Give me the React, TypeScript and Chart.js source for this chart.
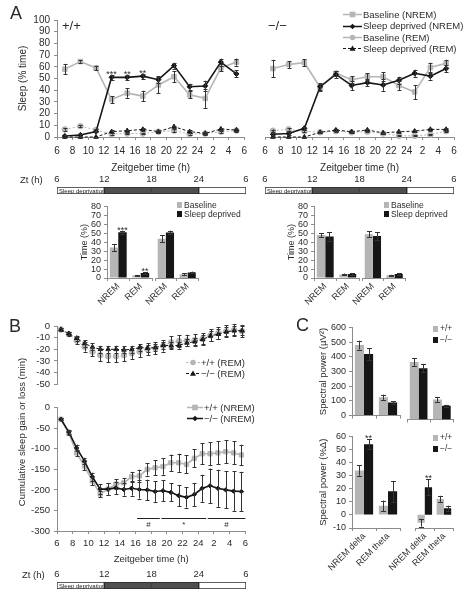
import React, { useEffect, useRef } from "react";
import { Chart, registerables } from "chart.js";
Chart.register(...registerables);

const FONT = "'Liberation Sans', Arial, Helvetica, sans-serif";
const GRAY = "#b5b5b5";
const BLACK = "#161616";
const AXIS = "#8c8c8c";
const TEXT = "#2b2b2b";
const ERR = "#333333";

// ---------- Panel A: time course (% sleep per 2 h) ----------
const ztHours = [7, 9, 11, 13, 15, 17, 19, 21, 23, 25, 27, 29];
// +/+
const wtBaseNREM = [58, 64.5, 59, 32, 37.5, 35, 44.5, 51.5, 36, 33, 59, 64];
const wtBaseNREMErr = [4.5, 1, 2, 3, 4, 4.5, 7, 4.5, 3, 8, 3, 3];
const wtSdNREM = [0.8, 1.7, 4.6, 51, 51, 52, 49, 61, 43, 43.6, 64, 54];
const wtSdNREMErr = [1, 1, 0.5, 2, 2, 2, 3, 2.5, 2.5, 4.5, 3, 3];
const wtSdNREMSig = ["", "", "", "***", "**", "**", "", "", "", "", "", ""];
const wtBaseREM = [6.5, 9.2, 6, 2.5, 3, 3, 4.5, 5.5, 2.5, 3, 4.5, 5.5];
const wtBaseREMErr = [1, 1, 1, 0.5, 0.5, 0.5, 1, 1, 0.5, 0.5, 1, 1];
const wtSdREM = [0, 0, 0, 4.6, 5.4, 6.5, 4.6, 8.8, 4.6, 3.1, 6.8, 6];
const wtSdREMErr = [0.3, 0.3, 0.3, 1, 1, 1, 1, 1, 1, 1, 1, 1];
// −/−
const koBaseNREM = [58.5, 62, 63.5, 42.5, 54.5, 49, 51.5, 51.5, 44, 38.5, 59.5, 63];
const koBaseNREMErr = [7.5, 3, 3, 3, 2, 3, 3, 4, 4, 6, 4, 3];
const koSdNREM = [2.3, 3, 7.4, 43, 53.5, 44, 46.5, 44.5, 48.5, 54.5, 52, 58.5];
const koSdNREMErr = [1, 1, 1, 3, 3, 4, 3, 5, 3, 3, 3, 3];
const koBaseREM = [5.4, 6.5, 5, 4, 5, 4, 4.5, 3, 1, 1, 2, 5];
const koBaseREMErr = [1, 1, 1, 0.5, 0.5, 0.5, 0.5, 0.5, 0.5, 0.5, 0.5, 1];
const koSdREM = [0, 0, 0, 4, 6, 4.5, 6, 3.5, 4.5, 5, 6.5, 6.5];
const koSdREMErr = [0.3, 0.3, 0.3, 1, 1, 1, 1, 1, 1, 1, 1, 1];

// ---------- Panel A: bar summaries (Time %) ----------
const stateCats = ["NREM", "REM"];
const wtBaseP1 = [34, 3];
const wtBaseP1Err = [4, 0.5];
const wtSdP1 = [51, 5.5];
const wtSdP1Err = [2, 1];
const wtSdP1Sig = ["***", "**"];
const wtBaseP2 = [43, 4];
const wtBaseP2Err = [4, 1];
const wtSdP2 = [50, 6];
const wtSdP2Err = [2, 1];
const koBaseP1 = [48, 4];
const koBaseP1Err = [2, 1];
const koSdP1 = [46.5, 4.5];
const koSdP1Err = [5, 1];
const koBaseP2 = [48, 3];
const koBaseP2Err = [3, 0.5];
const koSdP2 = [46, 4.5];
const koSdP2Err = [4, 1];

// ---------- Zt sleep-deprivation timeline ----------
const ztStart = [6, 12, 18, 24];
const ztEnd = [12, 18, 24, 30];
const ztFill = ["#ffffff", "#4f4f4f", "#4f4f4f", "#ffffff"];
const ztText = ["Sleep deprivation", "", "", ""];

// ---------- Panel B: cumulative sleep gain/loss (min) ----------
const cumHours = [6.5, 7.5, 8.5, 9.5, 10.5, 11.5, 12.5, 13.5, 14.5, 15.5, 16.5, 17.5, 18.5, 19.5, 20.5, 21.5, 22.5, 23.5, 24.5, 25.5, 26.5, 27.5, 28.5, 29.5];
const wtREM = [-3, -7, -12.5, -18, -22, -25, -26, -26, -25, -23.5, -22, -20, -19, -17, -14, -13, -12.5, -12, -11, -8, -6, -4.5, -3.5, -4.5];
const wtREMErr = [1, 2, 3, 4, 4, 5, 5, 5, 5, 5, 5, 5, 5, 5, 5, 5, 5, 5, 5, 5, 5, 5, 5, 5];
const koREM = [-3, -6.5, -10.5, -15, -18, -20, -20, -20, -20.5, -20, -18.5, -19, -18.5, -16.5, -17, -16.5, -14.5, -13.5, -11.5, -8.5, -7, -5, -4, -4];
const koREMErr = [1, 1.5, 2, 3, 3, 3, 3, 3, 3, 3, 3, 3, 3, 3, 3, 3, 3, 3, 4, 4, 4, 4, 4, 4];
const wtNREM = [-28, -62, -110, -142, -178, -210, -198, -186, -183, -168, -166, -150, -146, -143, -134, -134, -138, -123, -112, -112, -110, -107, -110, -115];
const wtNREMErr = [3, 5, 8, 10, 10, 8, 15, 12, 12, 12, 15, 15, 18, 20, 20, 22, 22, 22, 25, 28, 28, 28, 28, 25];
const koNREM = [-28, -59, -98, -130, -168, -198, -198, -195, -199, -196, -199, -200, -204, -202, -206, -214, -218, -211, -196, -190, -196, -200, -203, -204];
const koNREMErr = [3, 5, 8, 8, 10, 12, 15, 15, 15, 18, 22, 25, 25, 25, 22, 25, 25, 28, 33, 42, 45, 45, 48, 48];
const sigStart = [16.2, 19.3, 25.2];
const sigEnd = [19.1, 25.0, 30.0];
const sigLabel = ["#", "*", "#"];

// ---------- Panel C: spectral power ----------
const bandCats = ["NREM delta", "REM theta"];
const wtPowAbs1 = [480, 125];
const wtPowAbs1Err = [30, 18];
const koPowAbs1 = [420, 90];
const koPowAbs1Err = [40, 8];
const wtPowAbs2 = [375, 130];
const wtPowAbs2Err = [25, 15];
const koPowAbs2 = [335, 90];
const koPowAbs2Err = [28, 6];
const wtPowRel1 = [34, 7];
const wtPowRel1Err = [4, 4];
const koPowRel1 = [54, 18];
const koPowRel1Err = [4, 8];
const koPowRel1Sig = ["**", ""];
const wtPowRel2 = [-6, 12];
const wtPowRel2Err = [3, 2.5];
const koPowRel2 = [21, 5];
const koPowRel2Err = [6, 2];
const koPowRel2Sig = ["**", ""];

// ---------- plugins ----------
const errorBars = {
  id: "errorBars",
  afterDatasetsDraw(chart: any) {
    const { ctx } = chart;
    chart.data.datasets.forEach((ds: any, i: number) => {
      if (!ds.errors) return;
      const meta = chart.getDatasetMeta(i);
      const ys = chart.scales[meta.yAxisID];
      const cap = ds.errorCap ?? 2;
      ctx.save();
      ctx.strokeStyle = ds.errorColor || ERR;
      ctx.lineWidth = 1;
      meta.data.forEach((el: any, j: number) => {
        const raw = ds.data[j];
        const v = typeof raw === "number" ? raw : raw.y;
        const e = ds.errors[j];
        const x = Math.round(el.x) + 0.5;
        const y1 = ys.getPixelForValue(v + (e || 0));
        if (e) {
          const y2 = ys.getPixelForValue(v - e);
          ctx.beginPath();
          ctx.moveTo(x, y1);
          ctx.lineTo(x, y2);
          ctx.moveTo(x - cap, Math.round(y1) + 0.5);
          ctx.lineTo(x + cap, Math.round(y1) + 0.5);
          ctx.moveTo(x - cap, Math.round(y2) + 0.5);
          ctx.lineTo(x + cap, Math.round(y2) + 0.5);
          ctx.stroke();
        }
        const s = ds.stars && ds.stars[j];
        if (s) {
          ctx.fillStyle = TEXT;
          ctx.font = `9px ${FONT}`;
          ctx.textAlign = "center";
          ctx.textBaseline = "bottom";
          ctx.fillText(s, el.x, y1 + 4);
        }
      });
      ctx.restore();
    });
  },
};

const barText = {
  id: "barText",
  afterDatasetsDraw(chart: any) {
    const { ctx } = chart;
    chart.data.datasets.forEach((ds: any, i: number) => {
      if (!ds.innerText) return;
      const el = chart.getDatasetMeta(i).data[0];
      const p = el.getProps(["x", "base", "y"], true);
      ctx.save();
      ctx.fillStyle = "#222";
      ctx.font = `6px ${FONT}`;
      ctx.textAlign = "left";
      ctx.textBaseline = "middle";
      ctx.fillText(ds.innerText, Math.min(p.x, p.base) + 2, p.y + 0.5);
      ctx.restore();
    });
  },
};

const sigLines = {
  id: "sigLines",
  afterDatasetsDraw(chart: any, _a: any, opts: any) {
    if (!opts || !opts.starts) return;
    const { ctx } = chart;
    const xs = chart.scales.x;
    const ys = chart.scales.y;
    ctx.save();
    ctx.strokeStyle = "#222";
    ctx.lineWidth = 1;
    ctx.fillStyle = TEXT;
    ctx.font = `8px ${FONT}`;
    ctx.textAlign = "center";
    ctx.textBaseline = "middle";
    const yl = Math.round(ys.getPixelForValue(opts.lineY)) + 0.5;
    const yt = ys.getPixelForValue(opts.labelY);
    opts.starts.forEach((s: number, i: number) => {
      const x0 = xs.getPixelForValue(s);
      const x1 = xs.getPixelForValue(opts.ends[i]);
      ctx.beginPath();
      ctx.moveTo(x0, yl);
      ctx.lineTo(x1, yl);
      ctx.stroke();
      ctx.fillText(opts.labels[i], (x0 + x1) / 2, yt);
    });
    ctx.restore();
  },
};

// ---------- layout helpers ----------
type Area = { left: number; top: number; width: number; height: number; ax0: number; ay0: number; ax1: number; ay1: number };

function frame(a: Area, yVisible: boolean, xVisible: boolean, xTop = false) {
  const ls = a.ax0 - a.left;
  const rs = a.left + a.width - a.ax1;
  const ts = a.ay0 - a.top;
  const bs = a.top + a.height - a.ay1;
  return {
    padding: {
      left: yVisible ? 0 : ls,
      right: rs,
      top: xVisible && xTop ? 0 : ts,
      bottom: xVisible && !xTop ? 0 : bs,
    },
    yWidth: ls,
    xHeight: xTop ? ts : bs,
  };
}

const font = (size: number) => ({ family: FONT, size });

function baseOptions(L: any) {
  return {
    responsive: false,
    maintainAspectRatio: false,
    animation: false,
    events: [],
    layout: { padding: L.padding, autoPadding: false },
    plugins: { legend: { display: false }, tooltip: { enabled: false }, title: { display: false } },
  };
}

function yScale(L: any, min: number, max: number, step: number, o: any = {}) {
  if (o.hidden) return { type: "linear", display: false, min, max };
  return {
    type: "linear",
    min,
    max,
    afterFit: (s: any) => {
      s.width = L.yWidth;
    },
    ticks: { stepSize: step, autoSkip: false, font: font(o.size || 10), color: TEXT, padding: o.pad ?? 4 },
    grid: { display: true, drawOnChartArea: false, drawTicks: true, tickLength: 3, color: AXIS },
    border: { display: true, color: AXIS },
    title: o.title
      ? { display: true, text: o.title, font: font(o.titleSize || 10), color: TEXT, padding: { top: o.titlePad || 0, bottom: 0 } }
      : { display: false },
  };
}

function timeXScale(L: any, show: boolean, size: number, pad: number) {
  if (!show) return { type: "linear", display: false, min: 6, max: 30 };
  return {
    type: "linear",
    min: 6,
    max: 30,
    afterFit: (s: any) => {
      s.height = L.xHeight;
    },
    ticks: {
      stepSize: 2,
      autoSkip: false,
      maxRotation: 0,
      font: font(size),
      color: TEXT,
      padding: pad,
      callback: (v: any) => (v > 24 ? v - 24 : v),
    },
    grid: { display: true, drawOnChartArea: false, drawTicks: true, tickLength: 3, color: AXIS },
    border: { display: true, color: AXIS },
    title: { display: true, text: "Zeitgeber time (h)", font: font(size), color: TEXT, padding: { top: 0, bottom: 1 } },
  };
}

type Sty = { color: string; point: string; r: number; w: number; dash?: number[] };
const stNremSD: Sty = { color: BLACK, point: "rectRot", r: 2.6, w: 1.6 };
const stNremBase: Sty = { color: GRAY, point: "rect", r: 3.2, w: 1.6 };
const stRemSD: Sty = { color: BLACK, point: "triangle", r: 2.6, w: 1, dash: [3, 2] };
const stRemBase: Sty = { color: GRAY, point: "circle", r: 2.8, w: 1, dash: [2, 2] };

function lineDs(xs: number[], ys: number[], errs: number[], st: Sty, stars?: string[]) {
  return {
    data: xs.map((x, i) => ({ x, y: ys[i] })),
    errors: errs,
    stars,
    borderColor: st.color,
    backgroundColor: st.color,
    pointBackgroundColor: st.color,
    pointBorderColor: st.color,
    pointStyle: st.point,
    pointRadius: st.r,
    pointBorderWidth: 1,
    borderWidth: st.w,
    borderDash: st.dash || [],
    tension: 0,
    clip: false,
    errorCap: 2,
  };
}

function sleepLineConfig(a: Area, showY: boolean, sets: any[]) {
  const L = frame(a, showY, true);
  return {
    type: "line",
    data: { datasets: sets },
    options: {
      ...baseOptions(L),
      scales: {
        x: timeXScale(L, true, 10, 5),
        y: yScale(L, 0, 100, 10, showY ? { title: "Sleep (% time)", titleSize: 10, titlePad: 17, size: 10, pad: 4 } : { hidden: true }),
      },
    },
    plugins: [errorBars],
  };
}

function ztConfig(a: Area) {
  const L = frame(a, false, true, true);
  return {
    type: "bar",
    data: {
      labels: ["Zt"],
      datasets: ztStart.map((s, i) => ({
        data: [[s, ztEnd[i]]],
        backgroundColor: ztFill[i],
        borderColor: "#2a2a2a",
        borderWidth: 1,
        borderSkipped: false,
        barPercentage: 1,
        categoryPercentage: 1,
        grouped: false,
        innerText: ztText[i],
      })),
    },
    options: {
      ...baseOptions(L),
      indexAxis: "y",
      scales: {
        x: {
          type: "linear",
          position: "top",
          min: 6,
          max: 30,
          afterFit: (s: any) => {
            s.height = L.xHeight;
          },
          ticks: { stepSize: 6, autoSkip: false, font: font(9.5), color: TEXT, padding: 2, maxRotation: 0, callback: (v: any) => (v > 24 ? v - 24 : v) },
          grid: { display: false, drawTicks: false },
          border: { display: false },
        },
        y: { display: false },
      },
    },
    plugins: [barText],
  };
}

function barConfig(
  a: Area,
  cats: string[],
  sets: { data: number[]; err: number[]; color: string; stars?: string[] }[],
  y: { min: number; max: number; step: number; title?: string; show: boolean; titlePad?: number; titleSize?: number },
  showLabels: boolean,
  catPct: number,
) {
  const L = frame(a, y.show, true);
  return {
    type: "bar",
    data: {
      labels: cats,
      datasets: sets.map((s) => ({
        data: s.data,
        errors: s.err,
        stars: s.stars,
        backgroundColor: s.color,
        borderWidth: 0,
        barPercentage: 1,
        categoryPercentage: catPct,
        errorCap: 2.5,
      })),
    },
    options: {
      ...baseOptions(L),
      scales: {
        x: {
          type: "category",
          afterFit: (s: any) => {
            s.height = L.xHeight;
          },
          ticks: { display: showLabels, font: font(9), color: TEXT, minRotation: 45, maxRotation: 45, padding: 0, autoSkip: false },
          grid: { display: true, drawOnChartArea: false, drawTicks: true, tickLength: 3, color: AXIS, offset: true },
          border: { display: true, color: AXIS },
        },
        y: y.show
          ? yScale(L, y.min, y.max, y.step, { title: y.title, titleSize: y.titleSize || 9, titlePad: y.titlePad || 0, size: 9, pad: 3 })
          : { type: "linear", display: false, min: y.min, max: y.max },
      },
    },
    plugins: [errorBars],
  };
}

function cumConfig(a: Area, showX: boolean, min: number, max: number, step: number, sets: any[], sig?: any) {
  const L = frame(a, true, showX);
  return {
    type: "line",
    data: { datasets: sets },
    options: {
      ...baseOptions(L),
      plugins: { ...baseOptions(L).plugins, sigLines: sig || {} },
      scales: {
        x: timeXScale(L, showX, 9.5, 4),
        y: yScale(L, min, max, step, { size: 9.5, pad: 4 }),
      },
    },
    plugins: [errorBars, sigLines],
  };
}

// ---------- React pieces ----------
function ChartCanvas({ area, make }: { area: Area; make: () => any }) {
  const ref = useRef<HTMLCanvasElement>(null);
  useEffect(() => {
    const chart = new Chart(ref.current as HTMLCanvasElement, make());
    return () => chart.destroy();
  }, []);
  return (
    <canvas
      ref={ref}
      width={area.width}
      height={area.height}
      style={{ position: "absolute", left: area.left, top: area.top, width: area.width, height: area.height }}
    />
  );
}

type LegendItem = { label: string; color: string; marker: string; dash?: string; w?: number };

function Marker({ m, color, cx, cy }: { m: string; color: string; cx: number; cy: number }) {
  if (m === "rect") return <rect x={cx - 2.8} y={cy - 2.8} width={5.6} height={5.6} fill={color} />;
  if (m === "rectRot") return <polygon points={`${cx},${cy - 2.8} ${cx + 2.8},${cy} ${cx},${cy + 2.8} ${cx - 2.8},${cy}`} fill={color} />;
  if (m === "circle") return <circle cx={cx} cy={cy} r={2.7} fill={color} />;
  if (m === "triangle") return <polygon points={`${cx},${cy - 3} ${cx + 3},${cy + 2.2} ${cx - 3},${cy + 2.2}`} fill={color} />;
  return null;
}

function LineLegend({ left, top, rowH, size, lineW, items }: { left: number; top: number; rowH: number; size: number; lineW: number; items: LegendItem[] }) {
  return (
    <div style={{ position: "absolute", left, top, font: `${size}px ${FONT}`, color: TEXT, lineHeight: `${rowH}px` }}>
      {items.map((it) => (
        <div key={it.label} style={{ display: "flex", alignItems: "center", height: rowH, whiteSpace: "nowrap" }}>
          <svg width={lineW} height={9} style={{ marginRight: 1, flex: "none" }}>
            <line x1={0} y1={4.5} x2={lineW} y2={4.5} stroke={it.color} strokeWidth={it.w || 1.5} strokeDasharray={it.dash} />
            <Marker m={it.marker} color={it.color} cx={lineW / 2} cy={4.5} />
          </svg>
          <span>{it.label}</span>
        </div>
      ))}
    </div>
  );
}

function BoxLegend({ left, top, rowH, size, items }: { left: number; top: number; rowH: number; size: number; items: { label: string; color: string }[] }) {
  return (
    <div style={{ position: "absolute", left, top, font: `${size}px ${FONT}`, color: TEXT, lineHeight: `${rowH}px` }}>
      {items.map((it) => (
        <div key={it.label} style={{ display: "flex", alignItems: "center", height: rowH, whiteSpace: "nowrap" }}>
          <span style={{ display: "inline-block", width: 5, height: 6, background: it.color, marginRight: 2 }} />
          <span>{it.label}</span>
        </div>
      ))}
    </div>
  );
}

function Txt({ left, top, size, children, style }: any) {
  return (
    <div style={{ position: "absolute", left, top, font: `${size}px ${FONT}`, color: TEXT, lineHeight: 1, whiteSpace: "nowrap", ...style }}>
      {children}
    </div>
  );
}

// areas
const aA1: Area = { left: 0, top: 0, width: 252, height: 175, ax0: 57, ay0: 20, ax1: 245, ay1: 137 };
const aA2: Area = { left: 252, top: 0, width: 210, height: 175, ax0: 265, ay0: 20, ax1: 454, ay1: 137 };
const aZt1: Area = { left: 0, top: 172, width: 252, height: 27, ax0: 57, ay0: 187, ax1: 246, ay1: 194 };
const aZt2: Area = { left: 252, top: 172, width: 210, height: 27, ax0: 265, ay0: 187, ax1: 454, ay1: 194 };
const aBar1a: Area = { left: 75, top: 198, width: 80, height: 115, ax0: 107, ay0: 205, ax1: 152, ay1: 278 };
const aBar1b: Area = { left: 135, top: 198, width: 66, height: 115, ax0: 155, ay0: 205, ax1: 198.5, ay1: 278 };
const aBar2a: Area = { left: 282, top: 198, width: 80, height: 115, ax0: 314, ay0: 205, ax1: 359, ay1: 278 };
const aBar2b: Area = { left: 342, top: 198, width: 66, height: 115, ax0: 362, ay0: 205, ax1: 405.5, ay1: 278 };
const aRem: Area = { left: 0, top: 316, width: 252, height: 78, ax0: 57, ay0: 326, ax1: 246, ay1: 388 };
const aNrem: Area = { left: 0, top: 398, width: 252, height: 168, ax0: 57, ay0: 406, ax1: 246, ay1: 531 };
const aZtB: Area = { left: 0, top: 566, width: 252, height: 27, ax0: 57, ay0: 582, ax1: 246, ay1: 589 };
const aC1a: Area = { left: 314, top: 318, width: 90, height: 106, ax0: 352, ay0: 327.5, ax1: 400, ay1: 419.5 };
const aC1b: Area = { left: 385, top: 318, width: 72, height: 106, ax0: 407, ay0: 327.5, ax1: 453.5, ay1: 419.5 };
const aC2a: Area = { left: 314, top: 428, width: 90, height: 162, ax0: 352, ay0: 436, ax1: 400, ay1: 528 };
const aC2b: Area = { left: 385, top: 428, width: 72, height: 162, ax0: 407, ay0: 436, ax1: 453.5, ay1: 528 };

const legendA: LegendItem[] = [
  { label: "Baseline (NREM)", color: GRAY, marker: "rect" },
  { label: "Sleep deprived (NREM)", color: BLACK, marker: "rectRot" },
  { label: "Baseline (REM)", color: GRAY, marker: "circle" },
  { label: "Sleep deprived (REM)", color: BLACK, marker: "triangle", dash: "3 2", w: 1 },
];
const legendBRem: LegendItem[] = [
  { label: "+/+ (REM)", color: GRAY, marker: "circle", dash: "2 2", w: 1 },
  { label: "\u2212/\u2212 (REM)", color: BLACK, marker: "triangle", dash: "3 2", w: 1 },
];
const legendBNrem: LegendItem[] = [
  { label: "+/+ (NREM)", color: GRAY, marker: "rect" },
  { label: "\u2212/\u2212 (NREM)", color: BLACK, marker: "rectRot" },
];
const legendBars = [
  { label: "Baseline", color: GRAY },
  { label: "Sleep deprived", color: BLACK },
];
const legendC = [
  { label: "+/+", color: GRAY },
  { label: "\u2212/\u2212", color: BLACK },
];

export default function App() {
  return (
    <div style={{ position: "absolute", left: 0, top: 0, width: 469, height: 600, background: "#fff", overflow: "hidden" }}>
      {/* Panel A line charts */}
      <ChartCanvas
        area={aA1}
        make={() =>
          sleepLineConfig(aA1, true, [
            lineDs(ztHours, wtSdNREM, wtSdNREMErr, stNremSD, wtSdNREMSig),
            lineDs(ztHours, wtBaseNREM, wtBaseNREMErr, stNremBase),
            lineDs(ztHours, wtSdREM, wtSdREMErr, stRemSD),
            lineDs(ztHours, wtBaseREM, wtBaseREMErr, stRemBase),
          ])
        }
      />
      <ChartCanvas
        area={aA2}
        make={() =>
          sleepLineConfig(aA2, false, [
            lineDs(ztHours, koSdNREM, koSdNREMErr, stNremSD),
            lineDs(ztHours, koBaseNREM, koBaseNREMErr, stNremBase),
            lineDs(ztHours, koSdREM, koSdREMErr, stRemSD),
            lineDs(ztHours, koBaseREM, koBaseREMErr, stRemBase),
          ])
        }
      />
      <ChartCanvas area={aZt1} make={() => ztConfig(aZt1)} />
      <ChartCanvas area={aZt2} make={() => ztConfig(aZt2)} />

      {/* Panel A bars */}
      <ChartCanvas
        area={aBar1a}
        make={() =>
          barConfig(
            aBar1a,
            stateCats,
            [
              { data: wtBaseP1, err: wtBaseP1Err, color: GRAY },
              { data: wtSdP1, err: wtSdP1Err, color: BLACK, stars: wtSdP1Sig },
            ],
            { min: 0, max: 80, step: 10, title: "Time (%)", show: true, titlePad: 4.5, titleSize: 9 },
            true,
            0.75,
          )
        }
      />
      <ChartCanvas
        area={aBar1b}
        make={() =>
          barConfig(
            aBar1b,
            stateCats,
            [
              { data: wtBaseP2, err: wtBaseP2Err, color: GRAY },
              { data: wtSdP2, err: wtSdP2Err, color: BLACK },
            ],
            { min: 0, max: 80, step: 10, show: false },
            true,
            0.75,
          )
        }
      />
      <ChartCanvas
        area={aBar2a}
        make={() =>
          barConfig(
            aBar2a,
            stateCats,
            [
              { data: koBaseP1, err: koBaseP1Err, color: GRAY },
              { data: koSdP1, err: koSdP1Err, color: BLACK },
            ],
            { min: 0, max: 80, step: 10, title: "Time (%)", show: true, titlePad: 4.5, titleSize: 9 },
            true,
            0.75,
          )
        }
      />
      <ChartCanvas
        area={aBar2b}
        make={() =>
          barConfig(
            aBar2b,
            stateCats,
            [
              { data: koBaseP2, err: koBaseP2Err, color: GRAY },
              { data: koSdP2, err: koSdP2Err, color: BLACK },
            ],
            { min: 0, max: 80, step: 10, show: false },
            true,
            0.75,
          )
        }
      />

      {/* Panel B */}
      <ChartCanvas
        area={aRem}
        make={() =>
          cumConfig(aRem, false, -50, 0, 10, [
            lineDs(cumHours, koREM, koREMErr, stRemSD),
            lineDs(cumHours, wtREM, wtREMErr, stRemBase),
          ])
        }
      />
      <ChartCanvas
        area={aNrem}
        make={() =>
          cumConfig(
            aNrem,
            true,
            -300,
            0,
            50,
            [lineDs(cumHours, koNREM, koNREMErr, { ...stNremSD, r: 2.2 }), lineDs(cumHours, wtNREM, wtNREMErr, { ...stNremBase, r: 3 })],
            { starts: sigStart, ends: sigEnd, labels: sigLabel, lineY: -268, labelY: -285 },
          )
        }
      />
      <ChartCanvas area={aZtB} make={() => ztConfig(aZtB)} />

      {/* Panel C */}
      <ChartCanvas
        area={aC1a}
        make={() =>
          barConfig(
            aC1a,
            bandCats,
            [
              { data: wtPowAbs1, err: wtPowAbs1Err, color: GRAY },
              { data: koPowAbs1, err: koPowAbs1Err, color: BLACK },
            ],
            { min: 0, max: 600, step: 100, title: "Spectral power (\u00b5V\u00b2)", show: true, titlePad: 3.5, titleSize: 9.5 },
            false,
            0.76,
          )
        }
      />
      <ChartCanvas
        area={aC1b}
        make={() =>
          barConfig(
            aC1b,
            bandCats,
            [
              { data: wtPowAbs2, err: wtPowAbs2Err, color: GRAY },
              { data: koPowAbs2, err: koPowAbs2Err, color: BLACK },
            ],
            { min: 0, max: 600, step: 100, show: false },
            false,
            0.76,
          )
        }
      />
      <ChartCanvas
        area={aC2a}
        make={() =>
          barConfig(
            aC2a,
            bandCats,
            [
              { data: wtPowRel1, err: wtPowRel1Err, color: GRAY },
              { data: koPowRel1, err: koPowRel1Err, color: BLACK, stars: koPowRel1Sig },
            ],
            { min: -10, max: 60, step: 10, title: "Spectral power (%\u0394)", show: true, titlePad: 3.5, titleSize: 9.5 },
            true,
            0.76,
          )
        }
      />
      <ChartCanvas
        area={aC2b}
        make={() =>
          barConfig(
            aC2b,
            bandCats,
            [
              { data: wtPowRel2, err: wtPowRel2Err, color: GRAY },
              { data: koPowRel2, err: koPowRel2Err, color: BLACK, stars: koPowRel2Sig },
            ],
            { min: -10, max: 60, step: 10, show: false },
            true,
            0.76,
          )
        }
      />

      {/* Legends */}
      <LineLegend left={343} top={9} rowH={11.4} size={9.5} lineW={19} items={legendA} />
      <BoxLegend left={177} top={200.5} rowH={9} size={8.5} items={legendBars} />
      <BoxLegend left={384} top={200.5} rowH={9} size={8.5} items={legendBars} />
      <LineLegend left={186} top={357} rowH={11} size={9.5} lineW={14} items={legendBRem} />
      <LineLegend left={187} top={402} rowH={11} size={9.5} lineW={16} items={legendBNrem} />
      <BoxLegend left={433} top={323} rowH={11} size={8.5} items={legendC} />
      <BoxLegend left={433} top={432} rowH={11} size={8.5} items={legendC} />

      {/* Text labels */}
      <Txt left={10} top={4} size={18}>A</Txt>
      <Txt left={9} top={317} size={18}>B</Txt>
      <Txt left={296} top={316} size={18}>C</Txt>
      <Txt left={62} top={19} size={13}>+/+</Txt>
      <Txt left={268} top={19} size={13}>{"\u2212/\u2212"}</Txt>
      <Txt left={20} top={175} size={9.5}>Zt (h)</Txt>
      <Txt left={22} top={570} size={9.5}>Zt (h)</Txt>
      <Txt
        left={22}
        top={432}
        size={9.5}
        style={{ transform: "translate(-50%, -50%) rotate(-90deg)", transformOrigin: "center" }}
      >
        Cumulative sleep gain or loss (min)
      </Txt>
    </div>
  );
}
